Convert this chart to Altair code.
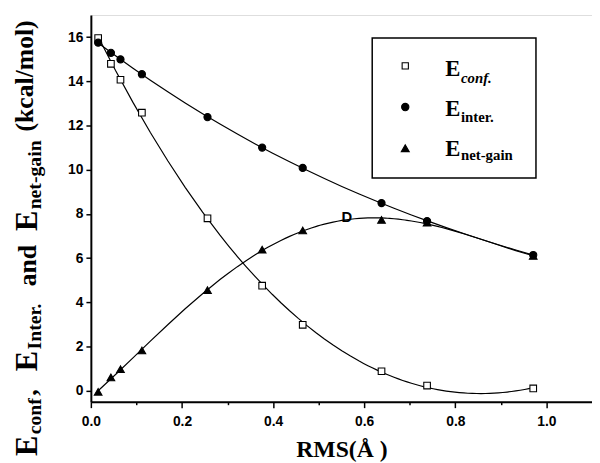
import altair as alt
import pandas as pd

# ---- data ----
rms = [0.016, 0.044, 0.065, 0.112, 0.256, 0.376, 0.465, 0.638, 0.738, 0.971]
e_conf = [15.96, 14.79, 14.07, 12.58, 7.80, 4.75, 2.98, 0.88, 0.23, 0.10]
e_inter = [15.75, 15.29, 14.99, 14.32, 12.38, 11.00, 10.08, 8.49, 7.67, 6.14]
e_net = [-0.05, 0.60, 0.97, 1.82, 4.55, 6.38, 7.25, 7.73, 7.60, 6.10]
series_names = ["conf", "inter", "net"]
fit_orders = [3, 3, 4]
stray_x = [0.562]
stray_y = [7.85]
x_ticks = [0.0, 0.1, 0.2, 0.3, 0.4, 0.5, 0.6, 0.7, 0.8, 0.9, 1.0]
y_ticks = list(range(0, 18))

rows = []
for name, vals in zip(series_names, [e_conf, e_inter, e_net]):
    for xv, yv in zip(rms, vals):
        rows.append({"rms": xv, "e": yv, "series": name})
df = pd.DataFrame(rows)
stray = pd.DataFrame({"rms": stray_x, "e": stray_y})

W, H = 508, 392
xs = alt.Scale(domain=[0, 1.1], nice=False, zero=False)
ys = alt.Scale(domain=[-0.5, 17], nice=False, zero=False)

common_axis = dict(
    grid=False, domainColor="black", domainWidth=2, tickColor="black", tickWidth=1.5,
    labelFont="Liberation Sans", labelFontSize=14, labelFontWeight="bold", labelColor="black",
    labelOverlap=False, labelFlush=False,
)

x_axis = alt.Axis(
    values=x_ticks, format=".1f",
    labelExpr="round(datum.value*10) % 2 == 0 ? datum.label : ''",
    tickSize={"condition": {"test": "round(datum.value*10) % 2 == 0", "value": 6}, "value": 3},
    labelPadding=7,
    title="RMS(Å )", titleFont="Liberation Serif", titleFontSize=24, titleFontWeight="bold",
    titleColor="black", titlePadding=10,
    **common_axis,
)
y_axis = alt.Axis(
    values=y_ticks,
    labelExpr="datum.value % 2 == 0 ? datum.label : ''",
    tickSize={"condition": {"test": "datum.value % 2 == 0", "value": 5}, "value": 3},
    labelPadding=3, title=None,
    **common_axis,
)

X = alt.X("rms:Q", scale=xs, axis=x_axis)
Y = alt.Y("e:Q", scale=ys, axis=y_axis)

# smooth fitted curves (polynomial fits, as in the original figure)
fit_layers = []
for name, order in zip(series_names, fit_orders):
    fit_layers.append(
        alt.Chart(df).transform_filter(alt.datum.series == name)
        .transform_regression("rms", "e", method="poly", order=order)
        .mark_line(color="black", strokeWidth=1.2).encode(x=X, y=Y)
    )

points = alt.Chart(df).mark_point(opacity=1, fillOpacity=1, stroke="black", strokeWidth=1.1).encode(
    x=alt.X("rms:Q", scale=xs),
    y=alt.Y("e:Q", scale=ys),
    shape=alt.Shape("series:N", scale=alt.Scale(domain=series_names, range=["square", "circle", "triangle-up"]), legend=None),
    fill=alt.Fill("series:N", scale=alt.Scale(domain=series_names, range=["white", "black", "black"]), legend=None),
    size=alt.Size("series:N", scale=alt.Scale(domain=series_names, range=[45, 60, 75]), legend=None),
)
stray_mark = alt.Chart(stray).mark_text(text="D", font="Liberation Sans", fontSize=15, fontWeight="bold",
                                        color="black").encode(x=alt.X("rms:Q", scale=xs), y=alt.Y("e:Q", scale=ys))

one = alt.Data(values=[{"k": 1}])

def txt(text, x, y, size, angle=0, italic=False, weight="bold"):
    return alt.Chart(one).mark_text(
        text=text, font="Liberation Serif", fontSize=size, fontWeight=weight,
        fontStyle="italic" if italic else "normal", angle=angle, align="left",
        baseline="alphabetic", color="black",
    ).encode(x=alt.value(x), y=alt.value(y))

# rotated y-axis title made of pieces (E with subscripts)
ytitle = [
    txt("E", -54.5, 447, 31, angle=270),
    txt("conf", -50.5, 425, 20, angle=270),
    txt(",", -54.5, 386, 26, angle=270),
    txt("E", -54.5, 361, 31, angle=270),
    txt("Inter.", -50.5, 339, 20, angle=270),
    txt("and", -55.5, 275, 26, angle=270),
    txt("E", -54.5, 219, 31, angle=270),
    txt("net-gain", -50.5, 197, 20, angle=270),
    txt("(kcal/mol)", -59, 118, 26, angle=270),
]

# legend box
box = alt.Chart(one).mark_rect(fill="white", stroke="black", strokeWidth=1.5).encode(
    x=alt.value(285.2), x2=alt.value(451.2), y=alt.value(23.3), y2=alt.value(165.3)
)
def sym(shape, fill, x, y, size):
    return alt.Chart(one).mark_point(shape=shape, fill=fill, stroke="black", strokeWidth=1.1,
                                     opacity=1, fillOpacity=1, size=size).encode(
        x=alt.value(x), y=alt.value(y))

legend = [
    box,
    sym("square", "white", 318.7, 51.6, 40),
    sym("circle", "black", 318.7, 93.3, 55),
    sym("triangle-up", "black", 318.7, 135.0, 65),
    txt("E", 359.2, 61.6, 23),
    txt("conf.", 375.2, 69.3, 15, italic=True),
    txt("E", 359.2, 102.6, 23),
    txt("inter.", 375.2, 108.3, 15),
    txt("E", 359.2, 143.3, 23),
    txt("net-gain", 375.2, 147.3, 15),
]

chart = alt.layer(*fit_layers, points, stray_mark, *legend, *ytitle).properties(
    width=W, height=H,
    padding={"left": 84, "top": 4, "right": 0, "bottom": 59},
    autosize=alt.AutoSizeParams(type="none"),
).configure_view(stroke=None).configure(background="white")

chart.save("out.html", embed_options={"renderer": "svg", "actions": False})
